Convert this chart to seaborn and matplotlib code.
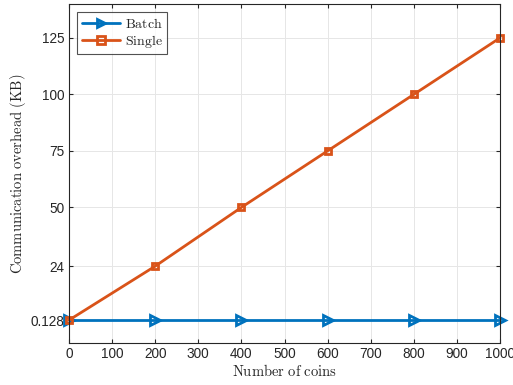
import numpy as np
import pandas as pd
import seaborn as sns
import matplotlib.pyplot as plt

#%% Data
coins = [0, 200, 400, 600, 800, 1000]
batch_kb = [0.128, 0.128, 0.128, 0.128, 0.128, 0.128]
single_kb = [0.128, 24, 50, 75, 100, 125]
y_ticks = [0.128, 24, 50, 75, 100, 125]
y_tick_labels = ['0.128', '24', '50', '75', '100', '125']

df = pd.DataFrame({
    'coins': coins * 2,
    'kb': batch_kb + single_kb,
    'scheme': ['Batch'] * len(coins) + ['Single'] * len(coins),
})

#%% Plot
sns.set_theme(style='ticks')
plt.rcParams['font.family'] = ['Liberation Sans', 'DejaVu Sans']
plt.rcParams['mathtext.fontset'] = 'cm'

fig = plt.figure(figsize=(5.13, 3.85), dpi=100)
ax = fig.add_axes([69/513, 1 - 343/385, (500 - 69)/513, (343 - 4)/385])

palette = {'Batch': '#0072BD', 'Single': '#D95319'}
sns.lineplot(data=df, x='coins', y='kb', hue='scheme', style='scheme',
             palette=palette, markers={'Batch': '>', 'Single': 's'},
             dashes=False, linewidth=2, markersize=6, markeredgewidth=2,
             ax=ax)
# MATLAB style: hollow markers with coloured edges, not clipped at the box
for line, ms in zip(ax.lines, [6.5, 4.8]):
    line.set_markersize(ms)
    line.set_markerfacecolor('none')
    line.set_markeredgecolor(line.get_color())
    line.set_clip_on(False)

ax.set_xlim(0, 1000)
ax.set_ylim(-10, 140)
ax.set_xticks(np.arange(0, 1001, 100))
ax.set_yticks(y_ticks)
ax.set_yticklabels(y_tick_labels)
ax.tick_params(direction='in', top=True, right=True, labelsize=9.8,
               length=3, width=0.8, colors='#262626', pad=3)
ax.grid(True, color='#e6e6e6', linewidth=0.7)
for sp in ax.spines.values():
    sp.set_color('#262626')
    sp.set_linewidth(0.8)

ax.set_xlabel(r'$\mathrm{Number\ of\ coins}$', fontsize=10.5, labelpad=1)
ax.set_ylabel(r'$\mathrm{Communication\ overhead\ (KB)}$', fontsize=10.5, labelpad=2)

handles, labels = ax.get_legend_handles_labels()
for h in handles:
    h.set_markerfacecolor('none')
    h.set_markeredgecolor(h.get_color())
leg = ax.legend(handles, [r'$\mathrm{%s}$' % l for l in labels], loc='upper left',
                fontsize=10, frameon=True, fancybox=False, edgecolor='#262626',
                borderpad=0.3, labelspacing=0.15, handlelength=2.8,
                handletextpad=0.3, borderaxespad=0.6)
leg.get_frame().set_linewidth(0.8)

fig.savefig('out.png', dpi=100)
